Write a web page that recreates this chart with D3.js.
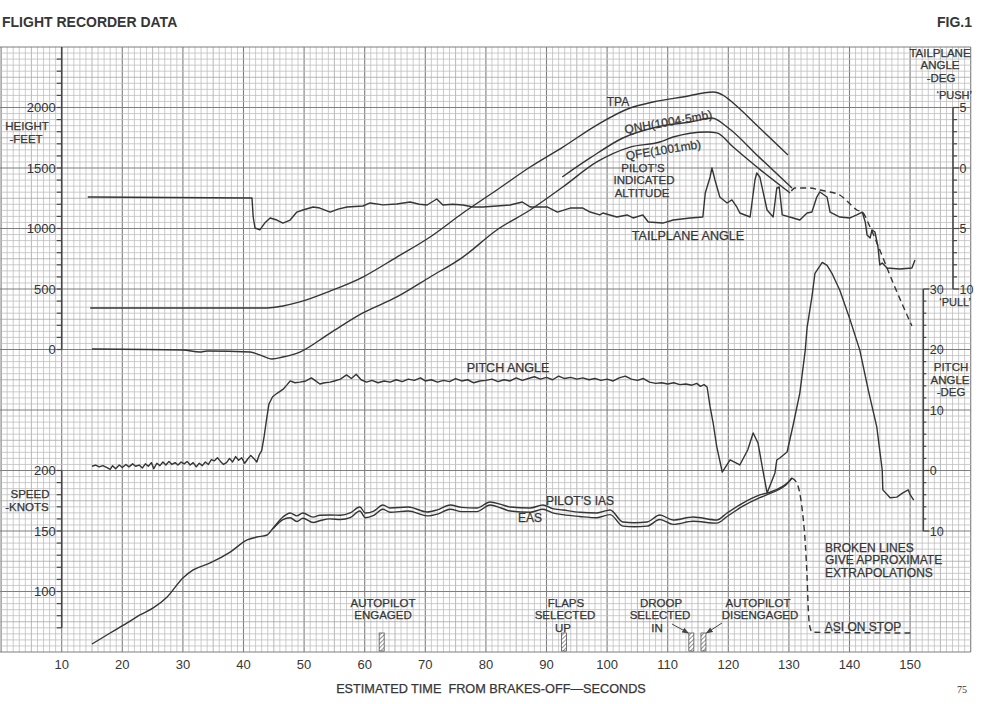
<!DOCTYPE html>
<html><head><meta charset="utf-8">
<script src="https://cdn.jsdelivr.net/npm/d3@7"></script>
<style>
html,body{margin:0;padding:0;background:#fff;}
svg{display:block;}
text{font-family:"Liberation Sans",Arial,Helvetica,sans-serif;fill:#363636;}
</style></head><body>
<svg id="c" width="994" height="704"></svg>
<script>
// ---------------- DATA ----------------
const timeTicks = [10,20,30,40,50,60,70,80,90,100,110,120,130,140,150];
const heightTicks = [0,500,1000,1500,2000];
const speedTicks = [100,150,200];
const tailTicks = [5,0,-5,-10];
const tailTickText = ["5","0","5","10"];
const pitchTicks = [30,20,10,0,-10];
const pitchTickText = ["30","20","10","0","10"];

// height (ft) vs time (s)
const tpa = [[14.7,343],[43.9,343],[46.5,360],[49.3,393],[54.3,483],[59.7,599],[65.3,764],[70.8,930],[76.2,1128],[81.8,1318],[87.3,1508],[92.7,1673],[98.3,1855],[103.8,1996],[107.6,2045],[112.5,2087],[117.5,2128],[119.1,2103],[120.8,2037],[125.0,1839],[129.85,1607]];
const qnh = [[92.6,1426],[97.2,1583],[102.6,1748],[108.2,1839],[113.7,1880],[117.3,1913],[119.8,1839],[125.0,1594],[130.5,1335]];
const qfe = [[15.0,4],[30.0,-4],[32.8,-21],[34.0,-12],[41.1,-21],[42.7,-45],[44.7,-79],[46.5,-62],[49.3,-21],[54.3,136],[59.7,302],[65.3,434],[70.8,599],[76.2,764],[81.8,988],[87.3,1153],[92.7,1343],[98.3,1550],[103.8,1673],[108.7,1715],[110.9,1756],[116.5,1798],[118.1,1790],[120.8,1673],[125.5,1476],[130.2,1293]];
const heightExtrap = [[130.4,1310],[131.0,1335],[133.5,1335],[135.1,1318],[136.8,1302],[138.4,1277],[140.1,1202],[141.2,1153],[142.1,1136],[143.4,1012],[145.0,822],[147.2,550],[150.3,194]];

// tailplane angle (deg)
const tailplane = [[14.3,-2.40],[41.4,-2.48],[41.6,-4.05],[41.9,-4.96],[42.7,-5.12],[43.5,-4.55],[44.4,-4.13],[45.5,-4.30],[46.5,-4.55],[47.7,-4.30],[48.8,-3.64],[49.8,-3.47],[51.5,-3.22],[52.6,-3.31],[54.3,-3.64],[55.6,-3.40],[57.1,-3.22],[59.7,-3.14],[60.9,-2.89],[63.0,-3.05],[65.3,-2.98],[67.5,-2.81],[69.0,-3.00],[70.3,-3.06],[71.9,-2.56],[72.9,-3.06],[74.5,-3.00],[76.2,-3.06],[77.9,-3.22],[79.5,-3.22],[81.8,-3.14],[84.0,-3.06],[86.0,-2.81],[87.3,-3.22],[90.1,-3.22],[91.8,-3.64],[93.9,-3.31],[96.0,-3.31],[97.2,-3.64],[98.8,-3.88],[99.3,-3.72],[101.6,-4.05],[103.3,-3.88],[104.3,-4.13],[105.9,-3.88],[106.8,-4.46],[109.2,-4.55],[110.9,-4.30],[113.7,-4.13],[115.8,-4.05],[116.2,-2.07],[117.0,-0.74],[117.3,0.0],[117.8,-0.99],[118.6,-2.40],[119.8,-2.89],[120.6,-2.64],[121.4,-3.22],[121.9,-3.72],[123.6,-4.05],[124.4,-0.99],[124.7,-0.41],[125.2,-0.74],[126.4,-3.47],[127.4,-4.05],[128.0,-1.65],[128.4,-1.57],[128.9,-3.88],[130.7,-4.13],[131.8,-4.30],[133.0,-3.72],[133.8,-3.64],[134.6,-2.40],[135.1,-1.98],[136.3,-2.40],[136.8,-3.64],[138.4,-4.05],[140.1,-4.13],[141.2,-3.88],[142.1,-3.64],[142.6,-4.46],[142.9,-5.54],[143.4,-5.79],[143.7,-5.12],[144.2,-5.29],[144.7,-6.53],[145.0,-8.02],[145.4,-7.85],[146.2,-8.26],[148.3,-8.35],[150.3,-8.26],[150.8,-7.60]];

// pitch angle (deg)
const pitch = [[15.0,0.7],[15.6,0.9],[16.2,0.6],[16.8,0.8],[17.4,0.5],[18.0,0.2],[18.4,0.8],[18.9,0.3],[19.5,0.9],[20.0,0.5],[20.6,1.0],[21.1,0.6],[21.7,1.1],[22.2,0.7],[22.8,0.9],[23.3,0.4],[23.8,1.1],[24.3,0.7],[24.8,1.3],[25.2,0.3],[25.7,1.2],[26.2,0.8],[26.7,1.4],[27.2,0.9],[27.7,1.5],[28.2,1.0],[28.7,1.3],[29.2,0.9],[29.7,1.4],[30.2,1.1],[30.7,1.5],[31.2,0.9],[31.7,1.3],[32.2,0.6],[32.7,1.2],[33.2,0.8],[33.7,1.4],[34.2,1.0],[34.7,1.8],[35.2,1.6],[35.7,2.1],[36.2,1.5],[36.7,1.0],[37.2,1.3],[37.7,2.0],[38.2,1.4],[38.7,2.3],[39.2,1.7],[39.7,2.1],[40.2,1.2],[40.7,1.9],[41.2,2.5],[41.7,2.0],[42.2,1.4],[42.6,2.6],[43.0,3.3],[43.4,5.6],[43.8,8.4],[44.2,11.0],[44.8,12.2],[45.6,12.8],[46.5,13.4],[47.2,14.2],[47.7,14.8],[48.5,14.5],[49.3,14.6],[50.3,14.8],[51.2,15.3],[51.8,14.9],[52.6,14.3],[53.4,14.5],[54.3,14.6],[55.0,14.8],[56.0,15.1],[57.0,15.8],[57.8,15.2],[58.6,15.9],[59.4,15.0],[60.3,14.6],[61.2,14.9],[62.2,14.5],[63.2,14.8],[64.2,14.6],[65.2,15.0],[66.2,14.7],[67.2,15.1],[68.2,14.9],[69.2,15.3],[70.0,14.8],[71.0,15.0],[72.0,14.6],[73.0,14.9],[74.0,14.7],[75.0,15.2],[76.0,14.8],[77.0,15.0],[78.0,14.5],[79.0,14.8],[80.0,14.9],[81.0,15.1],[82.0,14.7],[83.0,15.0],[84.0,14.8],[85.0,15.3],[86.0,14.9],[87.0,15.2],[88.0,15.5],[89.0,15.1],[90.0,15.4],[91.0,15.0],[92.0,15.6],[93.0,15.2],[94.0,15.4],[95.0,15.1],[96.0,15.3],[97.0,15.0],[98.0,15.2],[99.0,14.9],[100.0,15.1],[101.0,14.8],[102.0,15.3],[103.0,15.6],[104.0,15.1],[105.0,14.9],[106.0,15.2],[107.0,14.6],[108.0,14.4],[109.0,14.5],[110.0,14.3],[111.0,14.5],[112.0,14.2],[113.0,14.3],[114.0,14.1],[114.8,14.4],[115.4,13.9],[116.0,14.2],[116.5,13.8],[117.0,10.5],[117.5,7.85],[118.1,3.9],[119.0,-0.25],[120.3,1.74],[121.9,0.91],[123.2,3.39],[124.1,6.2],[124.9,4.55],[125.7,0.08],[126.4,-3.7],[127.7,-0.4],[128.0,1.74],[128.5,2.07],[129.7,3.06],[130.7,7.52],[131.8,12.8],[132.7,19.9],[133.0,23.6],[133.8,28.7],[134.3,32.6],[135.5,34.4],[136.3,33.9],[137.1,32.6],[138.4,29.8],[140.1,24.9],[141.7,19.9],[143.1,13.3],[144.5,7.2],[145.4,0.08],[145.5,-3.2],[146.7,-4.5],[147.8,-4.4],[148.8,-3.7],[149.7,-3.2],[150.0,-4.0],[150.6,-4.9]];

// speed (knots)
const ias = [[15.0,56.6],[18.0,65.7],[20.8,74.0],[22.9,80.6],[25.1,86.4],[27.4,95.5],[30.0,111.2],[31.7,117.8],[34.5,123.6],[37.8,132.6],[40.6,142.6],[42.2,145.0],[43.9,146.7],[44.9,152.5],[46.5,161.6],[47.7,164.9],[48.8,162.5],[49.8,164.9],[51.5,161.5],[52.6,163.0],[54.3,163.2],[56.0,163.0],[57.6,164.9],[59.2,169.8],[60.1,164.9],[61.5,166.5],[63.0,171.5],[64.2,169.0],[67.2,169.8],[70.3,165.7],[72.0,167.5],[74.1,171.5],[76.0,169.5],[78.5,169.0],[80.7,174.0],[82.5,172.0],[84.0,169.8],[87.3,169.0],[89.4,171.5],[91.0,168.5],[92.7,167.4],[95.5,165.5],[98.3,164.9],[100.5,167.4],[102.6,157.4],[104.5,156.8],[106.6,157.4],[108.7,163.2],[110.9,159.1],[114.2,161.6],[118.1,159.1],[119.8,164.9],[122.4,173.1],[125.2,179.8],[126.9,182.2],[129.9,190.5],[130.5,193.8]];
const eas = [[44.9,152.0],[46.5,159.5],[47.7,161.0],[48.8,157.8],[49.8,160.5],[51.5,157.0],[52.6,158.5],[54.3,160.0],[56.0,159.5],[57.6,161.0],[59.2,166.5],[60.1,161.0],[61.5,163.0],[63.0,168.0],[64.2,165.5],[67.2,166.5],[70.3,162.5],[72.0,164.0],[74.1,168.0],[76.0,166.0],[78.5,166.0],[80.7,171.5],[82.5,169.0],[84.0,166.5],[87.3,165.5],[89.4,168.0],[91.0,165.0],[92.7,163.5],[95.5,162.0],[98.3,161.0],[100.5,163.5],[102.6,154.0],[104.5,153.5],[106.6,154.0],[108.7,159.5],[110.9,155.5],[114.2,158.0],[118.1,156.5],[119.8,162.0],[122.4,170.5],[125.2,177.5],[126.9,181.0],[129.9,190.0],[130.5,193.8]];
const speedExtrap = [[130.5,193.8],[131.3,189.7],[132.2,167.4],[132.7,140.1],[133.0,112.0],[133.2,84.7],[133.5,70.0],[133.9,66.3],[150.5,65.7]];

// events (s)
const eventTimes = [62.8, 92.9, 113.9, 115.9];

// ---------------- CHART ----------------
const svg = d3.select("#c");
svg.append("rect").attr("width",994).attr("height",704).attr("fill","#fff");

const x = d3.scaleLinear().domain([0,160]).range([1.1,970.7]);
const yH = d3.scaleLinear().domain([-2500,2500]).range([652,47]);
const yT = d3.scaleLinear().domain([-10,5]).range([yH(500),yH(2000)]);
const yP = d3.scaleLinear().domain([-10,30]).range([yH(-1500),yH(500)]);
const yS = d3.scaleLinear().domain([70,200]).range([yH(-2300),yH(-1000)]);

const defs = svg.append("defs");
const pat = defs.append("pattern").attr("id","hatch").attr("width",3).attr("height",3)
  .attr("patternUnits","userSpaceOnUse").attr("patternTransform","rotate(45)");
pat.append("rect").attr("width",3).attr("height",3).attr("fill","#fff");
pat.append("line").attr("x1",0).attr("y1",0).attr("x2",0).attr("y2",3).attr("stroke","#555").attr("stroke-width",1.3);
defs.append("marker").attr("id","arr").attr("viewBox","0 0 8 8").attr("refX",7).attr("refY",4)
  .attr("markerWidth",7).attr("markerHeight",7).attr("orient","auto")
  .append("path").attr("d","M0,1 L8,4 L0,7 z").attr("fill","#444");

// grid
const g = svg.append("g");
const gx0 = 0, gx1 = x(160);
const cMaj = "#7e7e7e", cMid = "#a6a6a6", cMin = "#bfbfbf";
d3.range(0,161).forEach(k=>{
  const maj = k%10===0, mid = k%5===0;
  g.append("line").attr("x1",x(k)).attr("x2",x(k)).attr("y1",yH(2500)).attr("y2",yH(-2500))
   .attr("stroke", maj?cMaj:(mid?cMid:cMin)).attr("stroke-width", maj?1.1:0.8);
});
d3.range(-2500,2501,50).forEach(h=>{
  const maj = h%500===0, mid = h%250===0;
  g.append("line").attr("x1",gx0).attr("x2",gx1).attr("y1",yH(h)).attr("y2",yH(h))
   .attr("stroke", maj?cMaj:(mid?cMid:cMin)).attr("stroke-width", maj?1.1:0.8);
});

const axCol = "#474747";
// height axis
const ax = x(10);
svg.append("line").attr("x1",ax).attr("x2",ax).attr("y1",yH(2500)).attr("y2",yH(0)).attr("stroke",axCol).attr("stroke-width",1.6);
d3.range(0,2401,100).forEach(h=>{
  svg.append("line").attr("x1",ax-5).attr("x2",ax).attr("y1",yH(h)).attr("y2",yH(h)).attr("stroke",axCol).attr("stroke-width",1.2);
});
heightTicks.forEach(h=>{
  svg.append("text").attr("x",ax-6).attr("y",yH(h)).attr("dy","0.36em").attr("text-anchor","end")
   .attr("font-size",13).text(h);
});
// speed axis
svg.append("line").attr("x1",ax).attr("x2",ax).attr("y1",yS(200)).attr("y2",yS(70)).attr("stroke",axCol).attr("stroke-width",1.6);
d3.range(70,201,10).forEach(s=>{
  svg.append("line").attr("x1",ax-5).attr("x2",ax).attr("y1",yS(s)).attr("y2",yS(s)).attr("stroke",axCol).attr("stroke-width",1.2);
});
speedTicks.forEach(s=>{
  svg.append("text").attr("x",ax-6).attr("y",yS(s)).attr("dy","0.36em").attr("text-anchor","end")
   .attr("font-size",13).text(s);
});
// tailplane axis
const tx = 953;
svg.append("line").attr("x1",tx).attr("x2",tx).attr("y1",yT(5)).attr("y2",yT(-10)).attr("stroke",axCol).attr("stroke-width",1.6);
d3.range(-10,6,1).forEach(v=>{
  svg.append("line").attr("x1",tx).attr("x2",tx+(v%5===0?6:4)).attr("y1",yT(v)).attr("y2",yT(v)).attr("stroke",axCol).attr("stroke-width",1.2);
});
tailTicks.forEach((v,i)=>{
  svg.append("text").attr("x",tx+6.5).attr("y",yT(v)).attr("dy","0.36em").attr("font-size",12.5).text(tailTickText[i]);
});
// pitch axis
const px = 923.3;
svg.append("line").attr("x1",px).attr("x2",px).attr("y1",yP(30)).attr("y2",yP(-10)).attr("stroke",axCol).attr("stroke-width",1.6);
d3.range(-10,31,2).forEach(v=>{
  svg.append("line").attr("x1",px).attr("x2",px+(v%10===0?6:3)).attr("y1",yP(v)).attr("y2",yP(v)).attr("stroke",axCol).attr("stroke-width",1.2);
});
pitchTicks.forEach((v,i)=>{
  svg.append("text").attr("x",px+6.5).attr("y",yP(v)).attr("dy","0.36em").attr("font-size",12.5).text(pitchTickText[i]);
});
// time labels
timeTicks.forEach(t=>{
  svg.append("text").attr("x",x(t)).attr("y",669).attr("text-anchor","middle").attr("font-size",13).text(t);
});

// lines
const lc = "#353535";
function draw(data, ys, opts={}){
  const ln = d3.line().x(d=>x(d[0])).y(d=>ys(d[1])).curve(opts.curve||d3.curveLinear);
  svg.append("path").datum(data).attr("d",ln).attr("fill","none").attr("stroke",lc)
    .attr("stroke-width",opts.w||1.4).attr("stroke-linejoin","round")
    .attr("stroke-dasharray",opts.dash||null);
}
draw(tpa, yH, {curve:d3.curveMonotoneX});
draw(qnh, yH, {curve:d3.curveMonotoneX});
draw(qfe, yH, {curve:d3.curveMonotoneX});
draw(heightExtrap, yH, {curve:d3.curveMonotoneX, dash:"6,4"});
draw(tailplane, yT);
draw(pitch, yP);
draw(ias, yS, {curve:d3.curveMonotoneX});
draw(eas, yS, {curve:d3.curveMonotoneX});
draw(speedExtrap, yS, {curve:d3.curveMonotoneX, dash:"6,4"});

// event bars
eventTimes.forEach(t=>{
  svg.append("rect").attr("x",x(t)-2.5).attr("y",633).attr("width",5).attr("height",yH(-2500)-633-1)
   .attr("fill","url(#hatch)").attr("stroke","#555").attr("stroke-width",0.8);
});
// arrows
svg.append("line").attr("x1",672).attr("y1",624).attr("x2",x(eventTimes[2])-3).attr("y2",633)
  .attr("stroke","#444").attr("stroke-width",1).attr("marker-end","url(#arr)");
svg.append("line").attr("x1",722).attr("y1",623).attr("x2",x(eventTimes[3])+3).attr("y2",633)
  .attr("stroke","#444").attr("stroke-width",1).attr("marker-end","url(#arr)");

// texts
function T(s, xx, yy, o={}){
  const t = svg.append("text").attr("x",xx).attr("y",yy).attr("font-size",o.fs||11.5)
    .attr("text-anchor",o.a||"middle").text(s);
  if(o.fw) t.attr("font-weight",o.fw);
  else t.attr("stroke","#363636").attr("stroke-width",0.25);
  if(o.rot!==undefined) t.attr("transform",`rotate(${o.rot},${xx},${yy})`);
  if(o.fill) t.attr("fill",o.fill).attr("stroke",null);
  if(o.ff) t.style("font-family",o.ff);
  return t;
}
T("FLIGHT RECORDER DATA", 2, 27, {fs:14, fw:"bold", a:"start"});
T("FIG.1", 972, 27, {fs:14, fw:"bold", a:"end"});
T("75", 962, 693, {fs:10, ff:"'Liberation Serif',serif", fill:"#777"});
T("ESTIMATED TIME\u00a0\u00a0FROM BRAKES-OFF\u2014SECONDS", 491, 693, {fs:12.7});

T("HEIGHT", 27, 130); T("-FEET", 26, 142.5);
T("SPEED", 30, 498); T("-KNOTS", 27, 510.5);
T("TAILPLANE", 940, 56.5); T("ANGLE", 940, 69); T("-DEG", 941, 81.5);
T("\u2018PUSH\u2019", 972, 98.5, {a:"end", fs:11});
T("\u2018PULL\u2019", 971, 306, {a:"end", fs:11});
T("PITCH", 951, 371); T("ANGLE", 950, 383.5); T("-DEG", 951, 396);

T("TPA", 618, 106, {fs:12});
T("QNH(1004\u00b75mb)", 669, 126, {rot:-10, fs:12});
T("QFE(1001mb)", 664, 154, {rot:-9, fs:12});
T("PILOT\u2019S", 643, 171.5); T("INDICATED", 644, 184); T("ALTITUDE", 642, 196.5);
T("TAILPLANE ANGLE", 688, 240, {fs:12.6});
T("PITCH ANGLE", 508, 372, {fs:12.5});
T("PILOT\u2019S IAS", 580, 505, {fs:12});
T("EAS", 530, 522, {fs:12});

T("AUTOPILOT", 383, 606.5); T("ENGAGED", 383, 619);
T("FLAPS", 566, 606.5); T("SELECTED", 565, 619); T("UP", 563, 631.5);
T("DROOP", 661, 606.5); T("SELECTED", 660, 619); T("IN", 657, 631.5);
T("AUTOPILOT", 758, 606.5); T("DISENGAGED", 760, 619);
T("ASI ON STOP", 863, 631, {fs:12});
T("BROKEN LINES", 825, 551.5, {a:"start", fs:12});
T("GIVE APPROXIMATE", 825, 564, {a:"start", fs:12});
T("EXTRAPOLATIONS", 825, 576.5, {a:"start", fs:12});
</script>
</body></html>
